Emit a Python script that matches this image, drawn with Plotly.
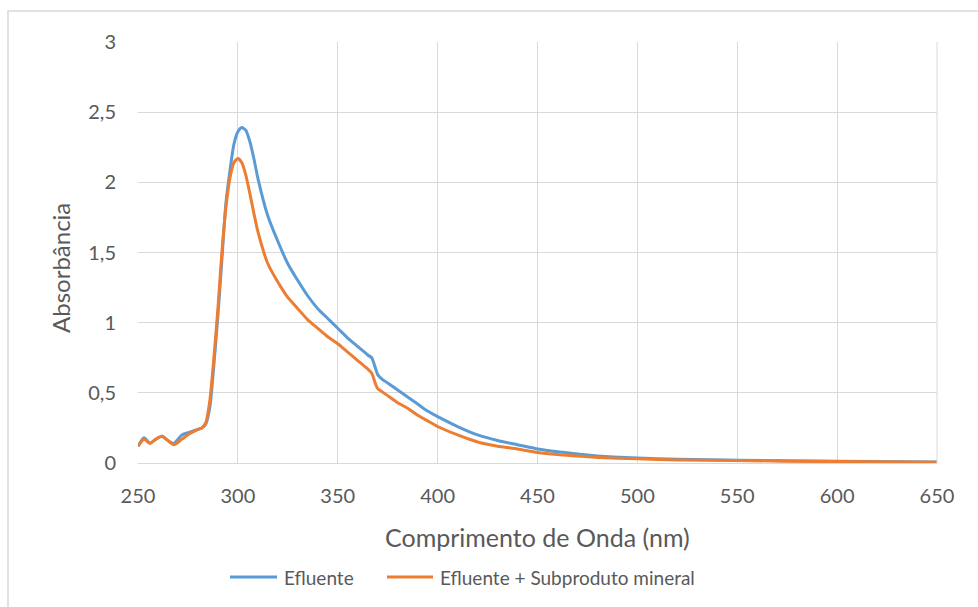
import plotly.graph_objects as go

# Wavelength grid (nm) and absorbance readings for both samples
wavelength = [250, 253, 256, 259, 262, 265, 268, 272, 276, 280, 282, 284, 286, 288, 290,
              292, 294, 296, 298, 300, 302, 304, 306, 308, 310, 315, 320, 325, 330, 335,
              340, 345, 350, 355, 360, 365, 367, 369, 370, 372, 375, 380, 385, 390, 395,
              400, 410, 420, 430, 440, 450, 460, 470, 480, 500, 520, 550, 600, 650]

efluente = [0.12, 0.18, 0.14, 0.17, 0.19, 0.16, 0.14, 0.20, 0.22, 0.24, 0.25, 0.28, 0.40, 0.70, 1.05,
            1.45, 1.85, 2.08, 2.27, 2.36, 2.39, 2.37, 2.29, 2.17, 2.03, 1.76, 1.58, 1.42, 1.30, 1.19,
            1.10, 1.03, 0.96, 0.89, 0.83, 0.77, 0.75, 0.67, 0.63, 0.60, 0.57, 0.52, 0.47, 0.42, 0.37,
            0.33, 0.26, 0.20, 0.16, 0.13, 0.10, 0.08, 0.065, 0.05, 0.035, 0.027, 0.02, 0.012, 0.008]

efluente_sub = [0.12, 0.17, 0.14, 0.17, 0.19, 0.16, 0.13, 0.17, 0.21, 0.24, 0.25, 0.29, 0.45, 0.75, 1.10,
                1.50, 1.82, 2.03, 2.14, 2.17, 2.14, 2.05, 1.92, 1.78, 1.65, 1.42, 1.29, 1.18, 1.10, 1.02,
                0.96, 0.90, 0.85, 0.79, 0.73, 0.67, 0.64, 0.56, 0.53, 0.51, 0.48, 0.43, 0.39, 0.34, 0.30,
                0.26, 0.20, 0.15, 0.12, 0.10, 0.075, 0.06, 0.05, 0.04, 0.03, 0.022, 0.017, 0.01, 0.006]

x_ticks = [250, 300, 350, 400, 450, 500, 550, 600, 650]
y_ticks = [0, 0.5, 1, 1.5, 2, 2.5, 3]

series_names = ["Efluente", "Efluente + Subproduto mineral"]
series_colors = ["#5B9BD5", "#ED7D31"]

FONT = "Lato"
TXT = "#595959"
GRID = "#D9D9D9"

# plot area in pixels (used to convert legend/frame positions to paper units)
W, H = 978, 607
L, R, T, B = 138, 41, 42, 144
PW, PH = W - L - R, H - T - B


def px(x):
    return (x - L) / PW


def py(y):
    return (H - B - y) / PH


fig = go.Figure()
for name, ys, col in zip(series_names, [efluente, efluente_sub], series_colors):
    fig.add_trace(go.Scatter(
        x=wavelength, y=ys, name=name, mode="lines", showlegend=False,
        line=dict(color=col, width=3, shape="spline", smoothing=0.6),
    ))

# legend drawn below the x-axis title: a line swatch followed by its label
legend_x = [(230, 277, 282), (387, 433, 438)]
legend_y = 577
shapes = [
    # outer chart frame
    dict(type="rect", xref="paper", yref="paper", x0=px(8), y0=py(640), x1=px(1000), y1=py(11),
         line=dict(color=GRID, width=1.5), fillcolor="rgba(0,0,0,0)", layer="below"),
    # right edge of the plot area
    dict(type="line", xref="paper", yref="paper", x0=1, x1=1, y0=0, y1=1,
         line=dict(color=GRID, width=1)),
]
annotations = [
    dict(text="Absorbância", xref="paper", yref="paper", x=px(60), y=py(268),
         textangle=-90, showarrow=False, font=dict(size=24, color=TXT),
         xanchor="center", yanchor="middle"),
    dict(text="Comprimento de Onda (nm)", xref="paper", yref="paper", x=0.5, y=py(537),
         showarrow=False, font=dict(size=25, color=TXT),
         xanchor="center", yanchor="middle"),
]
for name, col, (x0, x1, xt) in zip(series_names, series_colors, legend_x):
    shapes.append(dict(type="line", xref="paper", yref="paper", x0=px(x0), x1=px(x1),
                       y0=py(legend_y), y1=py(legend_y), line=dict(color=col, width=3)))
    annotations.append(dict(text=name, xref="paper", yref="paper", x=px(xt), y=py(legend_y),
                            showarrow=False, xanchor="left", yanchor="middle",
                            font=dict(size=19, color=TXT)))

fig.update_layout(
    width=W, height=H,
    margin=dict(l=L, r=R, t=T, b=B),
    paper_bgcolor="white", plot_bgcolor="white",
    separators=",.",
    font=dict(family=FONT, color=TXT, size=20),
    showlegend=False,
    xaxis=dict(range=[250, 650], tickvals=x_ticks, showgrid=True, gridcolor=GRID,
               gridwidth=1, zeroline=False, showline=True, linecolor=GRID, linewidth=1,
               ticks="", ticklabelstandoff=15, tickfont=dict(size=20, color=TXT), fixedrange=True),
    yaxis=dict(range=[0, 3], tickvals=y_ticks, showgrid=True, gridcolor=GRID,
               gridwidth=1, zeroline=False, showline=False,
               ticks="", ticklabelstandoff=21, tickfont=dict(size=20, color=TXT), fixedrange=True),
    annotations=annotations,
    shapes=shapes,
)

fig.write_html("out.html")
